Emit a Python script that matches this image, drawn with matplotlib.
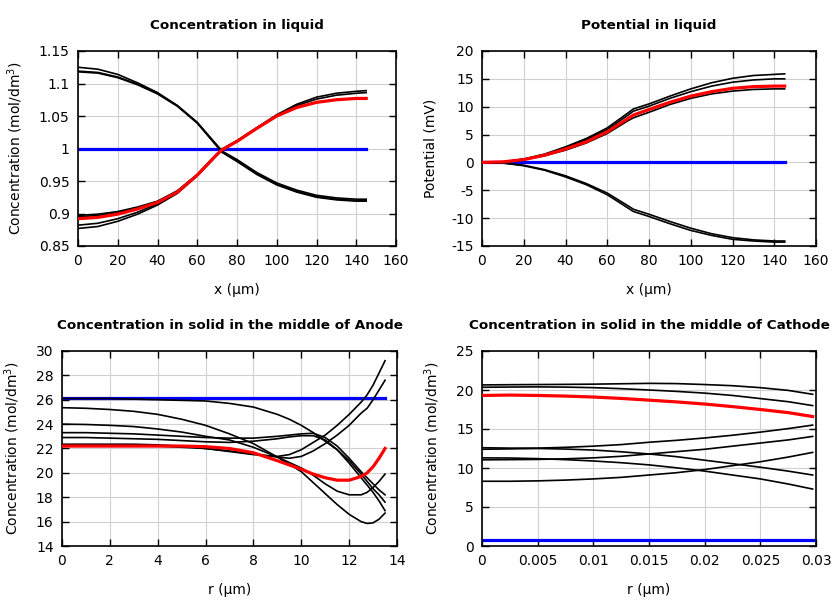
import matplotlib
matplotlib.use("Agg")
import matplotlib.pyplot as plt
from matplotlib.ticker import FuncFormatter, MultipleLocator

# ---------------- Panel 1: concentration in liquid ----------------
x_liq = [0, 10, 20, 30, 40, 50, 60, 70, 72.5, 80, 90, 100, 110, 120, 130, 140, 145]
cl_dec1 = [1.125, 1.122, 1.114, 1.101, 1.086, 1.066, 1.040, 1.005, 0.996, 0.983, 0.963, 0.947, 0.936, 0.928, 0.924, 0.922, 0.922]
cl_dec2 = [1.119, 1.117, 1.110, 1.099, 1.085, 1.066, 1.040, 1.004, 0.995, 0.981, 0.961, 0.945, 0.934, 0.926, 0.922, 0.920, 0.920]
cl_dec3 = [1.118, 1.116, 1.109, 1.098, 1.084, 1.065, 1.039, 1.003, 0.994, 0.980, 0.960, 0.944, 0.933, 0.925, 0.921, 0.919, 0.919]
cl_inc1 = [0.897, 0.899, 0.903, 0.910, 0.919, 0.935, 0.960, 0.992, 0.999, 1.012, 1.032, 1.052, 1.068, 1.079, 1.085, 1.088, 1.089]
cl_inc2 = [0.895, 0.897, 0.901, 0.909, 0.918, 0.934, 0.960, 0.992, 0.999, 1.012, 1.032, 1.051, 1.066, 1.076, 1.082, 1.085, 1.086]
cl_inc3 = [0.882, 0.885, 0.892, 0.902, 0.915, 0.932, 0.959, 0.991, 0.998, 1.011, 1.031, 1.050, 1.063, 1.071, 1.075, 1.077, 1.078]
cl_inc4 = [0.877, 0.880, 0.888, 0.899, 0.913, 0.931, 0.958, 0.990, 0.998, 1.011, 1.031, 1.050, 1.063, 1.071, 1.075, 1.077, 1.077]
cl_red = [0.892, 0.894, 0.899, 0.907, 0.917, 0.933, 0.959, 0.991, 0.998, 1.011, 1.031, 1.050, 1.063, 1.071, 1.075, 1.077, 1.077]
cl_blue = [1.0] * len(x_liq)

# ---------------- Panel 2: potential in liquid ----------------
pl_up1 = [0, 0.1, 0.6, 1.5, 2.8, 4.3, 6.2, 8.9, 9.6, 10.5, 11.9, 13.2, 14.3, 15.1, 15.6, 15.8, 15.9]
pl_up2 = [0, 0.1, 0.6, 1.4, 2.6, 4.1, 5.9, 8.5, 9.2, 10.1, 11.5, 12.7, 13.7, 14.4, 14.8, 15.0, 15.0]
pl_up3 = [0, 0.1, 0.5, 1.2, 2.2, 3.5, 5.2, 7.5, 8.0, 9.0, 10.4, 11.5, 12.3, 12.8, 13.1, 13.2, 13.2]
pl_red = [0, 0.1, 0.5, 1.3, 2.4, 3.7, 5.5, 7.9, 8.5, 9.5, 10.8, 11.9, 12.7, 13.3, 13.6, 13.7, 13.7]
pl_lo1 = [0, -0.1, -0.5, -1.3, -2.4, -3.8, -5.5, -7.8, -8.4, -9.3, -10.6, -11.8, -12.8, -13.5, -13.9, -14.1, -14.1]
pl_lo2 = [0, -0.1, -0.6, -1.4, -2.6, -4.0, -5.8, -8.2, -8.8, -9.7, -11.0, -12.2, -13.1, -13.8, -14.1, -14.3, -14.3]
pl_blue = [0.0] * len(x_liq)

# ---------------- Panel 3: solid concentration, anode ----------------
r_an = [0, 1, 2, 3, 4, 5, 6, 7, 8, 9, 9.5, 10, 10.5, 11, 11.5, 12, 12.5, 12.75, 13, 13.25, 13.5]
an_g = [26.1, 26.1, 26.1, 26.05, 26.0, 25.95, 25.9, 25.7, 25.4, 24.8, 24.4, 23.9, 23.3, 22.6, 21.9, 21.0, 19.9, 19.3, 18.7, 18.2, 17.6]
an_h = [25.35, 25.3, 25.2, 25.05, 24.8, 24.4, 23.9, 23.2, 22.4, 21.3, 20.7, 20.1, 19.2, 18.3, 17.4, 16.6, 16.0, 15.85, 15.9, 16.2, 16.7]
an_i = [24.0, 23.97, 23.9, 23.8, 23.6, 23.35, 23.0, 22.7, 22.1, 21.3, 20.85, 20.4, 19.8, 19.1, 18.5, 18.2, 18.2, 18.4, 18.8, 19.3, 19.9]
an_j = [23.3, 23.3, 23.25, 23.2, 23.1, 23.0, 22.9, 22.85, 22.85, 23.0, 23.1, 23.2, 23.25, 22.9, 22.2, 21.2, 20.1, 19.6, 19.1, 18.6, 18.2]
an_k = [22.9, 22.9, 22.85, 22.8, 22.75, 22.65, 22.55, 22.5, 22.6, 22.8, 22.95, 23.05, 23.05, 22.7, 21.9, 20.8, 19.6, 19.0, 18.4, 17.7, 16.9]
an_e = [22.35, 22.35, 22.35, 22.35, 22.3, 22.2, 22.0, 21.75, 21.5, 21.35, 21.5, 21.9, 22.5, 23.1, 23.9, 24.8, 25.8, 26.4, 27.2, 28.2, 29.2]
an_f = [22.2, 22.2, 22.2, 22.2, 22.2, 22.1, 22.0, 21.8, 21.55, 21.3, 21.2, 21.35, 21.8, 22.4, 23.1, 23.9, 24.9, 25.3, 26.0, 26.8, 27.6]
an_red = [22.2, 22.2, 22.2, 22.2, 22.2, 22.2, 22.15, 22.0, 21.65, 21.0, 20.65, 20.3, 19.9, 19.6, 19.4, 19.4, 19.7, 20.0, 20.5, 21.2, 22.0]
an_blue = [26.15] * len(r_an)

# ---------------- Panel 4: solid concentration, cathode ----------------
r_ca = [0, 0.0025, 0.005, 0.0075, 0.01, 0.0125, 0.015, 0.0175, 0.02, 0.0225, 0.025, 0.0275, 0.0297]
ca_1 = [20.65, 20.68, 20.7, 20.72, 20.75, 20.8, 20.85, 20.82, 20.7, 20.55, 20.3, 19.95, 19.45]
ca_2 = [20.35, 20.38, 20.4, 20.37, 20.3, 20.17, 20.0, 19.82, 19.6, 19.3, 18.9, 18.5, 18.0]
ca_red = [19.3, 19.35, 19.3, 19.22, 19.1, 18.92, 18.7, 18.47, 18.2, 17.87, 17.5, 17.1, 16.6]
ca_4 = [12.6, 12.55, 12.55, 12.65, 12.8, 13.0, 13.3, 13.55, 13.85, 14.2, 14.6, 15.05, 15.5]
ca_5 = [12.4, 12.45, 12.5, 12.43, 12.3, 12.08, 11.8, 11.45, 11.0, 10.55, 10.1, 9.6, 9.1]
ca_6 = [11.3, 11.28, 11.2, 11.07, 10.9, 10.68, 10.4, 10.02, 9.6, 9.1, 8.6, 7.95, 7.3]
ca_7 = [11.05, 11.07, 11.1, 11.18, 11.3, 11.5, 11.8, 12.1, 12.4, 12.8, 13.2, 13.6, 14.05]
ca_8 = [8.3, 8.3, 8.35, 8.45, 8.6, 8.8, 9.1, 9.4, 9.8, 10.3, 10.8, 11.4, 12.0]
ca_blue = [0.8] * len(r_ca)

titles = ["Concentration in liquid", "Potential in liquid",
          "Concentration in solid in the middle of Anode",
          "Concentration in solid in the middle of Cathode"]
conc_label = "Concentration (mol/dm$^3$)"

plt.rcParams["font.family"] = ["DejaVu Sans"]
plt.rcParams["font.size"] = 10

fig = plt.figure(figsize=(8.4, 6.0), dpi=100)
W, H = 840.0, 600.0

def make_ax(l, r, t, b):
    return fig.add_axes([l / W, 1 - b / H, (r - l) / W, (b - t) / H])

ax1 = make_ax(78, 396, 51, 246)
ax2 = make_ax(482, 816, 51, 246)
ax3 = make_ax(62, 397, 351, 546)
ax4 = make_ax(482, 816, 351, 546)

BLK = dict(color="black", lw=1.2, zorder=3)
RED = dict(color="#ff0000", lw=2.3, zorder=4)
BLU = dict(color="#0000ff", lw=2.3, zorder=2)

fmt = FuncFormatter(lambda v, p: "%g" % round(v, 6))

def style(ax, title, xlabel, ylabel, xlim, xstep, ylim, ystep):
    ax.set_xlim(*xlim)
    ax.set_ylim(*ylim)
    ax.xaxis.set_major_locator(MultipleLocator(xstep))
    ax.yaxis.set_major_locator(MultipleLocator(ystep))
    ax.xaxis.set_major_formatter(fmt)
    ax.yaxis.set_major_formatter(fmt)
    ax.grid(True, color="#d0d0d0", lw=0.8, zorder=0)
    ax.set_axisbelow(True)
    ax.tick_params(direction="in", top=True, right=True, length=5, width=1,
                   labelsize=10, pad=6)
    for s in ax.spines.values():
        s.set_linewidth(1.2)
    ax.set_title(title, fontsize=9.7, fontweight="bold", pad=15.5)
    ax.set_xlabel(xlabel, fontsize=10, labelpad=10.5)
    ax.set_ylabel(ylabel, fontsize=10, labelpad=10)

# Panel 1
ax1.plot(x_liq, cl_blue, **BLU)
for c in (cl_dec1, cl_dec2, cl_dec3, cl_inc1, cl_inc2, cl_inc3, cl_inc4):
    ax1.plot(x_liq, c, **BLK)
ax1.plot(x_liq, cl_red, **RED)
style(ax1, titles[0], "x (μm)", conc_label, (0, 160), 20, (0.85, 1.15), 0.05)

# Panel 2
ax2.plot(x_liq, pl_blue, **BLU)
for c in (pl_up1, pl_up2, pl_up3, pl_lo1, pl_lo2):
    ax2.plot(x_liq, c, **BLK)
ax2.plot(x_liq, pl_red, **RED)
style(ax2, titles[1], "x (μm)", "Potential (mV)", (0, 160), 20, (-15, 20), 5)

# Panel 3
ax3.plot(r_an, an_blue, **BLU)
for c in (an_g, an_h, an_i, an_j, an_k, an_e, an_f):
    ax3.plot(r_an, c, **BLK)
ax3.plot(r_an, an_red, **RED)
style(ax3, titles[2], "r (μm)", conc_label, (0, 14), 2, (14, 30), 2)

# Panel 4
ax4.plot(r_ca, ca_blue, **BLU)
for c in (ca_1, ca_2, ca_4, ca_5, ca_6, ca_7, ca_8):
    ax4.plot(r_ca, c, **BLK)
ax4.plot(r_ca, ca_red, **RED)
style(ax4, titles[3], "r (μm)", conc_label, (0, 0.03), 0.005, (0, 25), 5)

fig.savefig("out.png", dpi=100)
